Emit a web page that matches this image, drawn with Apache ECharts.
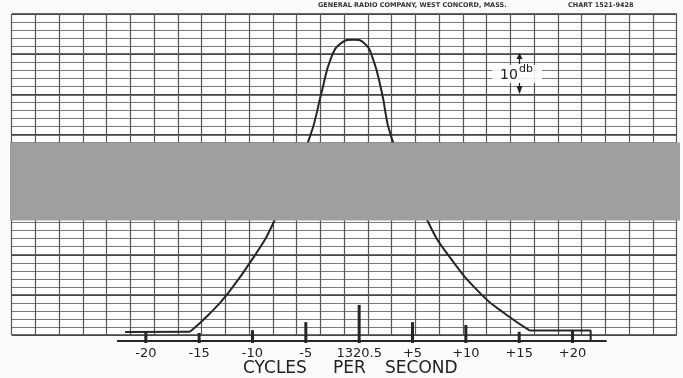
<!DOCTYPE html>
<html>
<head>
<meta charset="utf-8">
<script src="https://cdn.jsdelivr.net/npm/echarts@6/dist/echarts.min.js"></script>
<style>
html,body{margin:0;padding:0;background:#fbfbfb;}
#c{width:683px;height:378px;}
</style>
</head>
<body>
<div id="c"></div>
<script>
// Frequency tick marks (offset from 1320.5 c/s) and their labels
const freqTicks = [-20, -15, -10, -5, 0, 5, 10, 15, 20];
const freqLabels = ['-20', '-15', '-10', '-5', '1320.5', '+5', '+10', '+15', '+20'];
// Marker pips: heights in db above chart bottom
const pipTop = [0.8, 0.5, 1.2, 3.2, 7.5, 3.2, 2.5, 0.8, 1.2];
const pipBase = -2;
// Response curve (frequency offset, db above chart bottom)
const curveFreq = [-15.86, -14.14, -12.42, -9.76, -7.96, -4.67, -3.51, -2.64, -1.66, -0.55, 0.45, 1.27, 2.11, 3.05, 6.42, 8.35, 11.49, 13.83, 16.01];
const curveDb   = [0.8, 5.0, 10.0, 19.9, 28.4, 49.0, 60.6, 69.0, 72.8, 73.6, 72.8, 69.0, 60.6, 49.0, 28.4, 19.9, 10.0, 5.0, 1.1];
// Floor segments of the trace
const floorLeftFreq = [-21.95, -15.86];
const floorLeftDb = [0.75, 0.8];
const floorRightFreq = [16.01, 21.7, 21.7];
const floorRightDb = [1.1, 1.1, -1.4];
const baseFreq = [-22.7, 23.2];
const baseDb = [-1.5, -1.5];

const zip = (a, b) => a.map((v, i) => [v, b[i]]);
const ink = '#262626';

const series = [
  {type: 'line', xAxisIndex: 0, yAxisIndex: 0, data: [], silent: true},
  {type: 'line', xAxisIndex: 1, yAxisIndex: 2, data: zip(curveFreq, curveDb), smooth: 0.5,
   showSymbol: false, clip: false, lineStyle: {color: ink, width: 2}},
  {type: 'line', xAxisIndex: 1, yAxisIndex: 2, data: zip(floorLeftFreq, floorLeftDb),
   showSymbol: false, clip: false, lineStyle: {color: ink, width: 2}},
  {type: 'line', xAxisIndex: 1, yAxisIndex: 2, data: zip(floorRightFreq, floorRightDb),
   showSymbol: false, clip: false, lineStyle: {color: ink, width: 2}},
  {type: 'line', xAxisIndex: 1, yAxisIndex: 2, data: zip(baseFreq, baseDb),
   showSymbol: false, clip: false, lineStyle: {color: ink, width: 2}}
];
freqTicks.forEach((f, i) => {
  series.push({type: 'line', xAxisIndex: 1, yAxisIndex: 2,
    data: [[f, pipBase], [f, pipTop[i]]], showSymbol: false, clip: false,
    lineStyle: {color: ink, width: 3}});
});

const chart = echarts.init(document.getElementById('c'), null, {renderer: 'canvas'});
chart.setOption({
  animation: false,
  backgroundColor: '#fbfbfb',
  grid: [
    {left: 11.7, right: 6.3, top: 14, bottom: 43, backgroundColor: '#ffffff', show: true, borderWidth: 0},
    {left: 39.13, right: 3.79, top: 14, bottom: 43}
  ],
  xAxis: [
    {gridIndex: 0, type: 'value', min: 0, max: 28, interval: 1,
     axisLine: {show: false}, axisTick: {show: false}, axisLabel: {show: false},
     splitLine: {show: true, lineStyle: {color: '#555', width: 1.2}}},
    {gridIndex: 1, type: 'value', min: -30, max: 30, interval: 5,
     axisLine: {show: false}, axisTick: {show: false}, splitLine: {show: false},
     axisLabel: {show: true, margin: 12, fontSize: 13, color: '#222', fontFamily: 'DejaVu Sans',
       formatter: v => { const i = freqTicks.indexOf(Math.round(v)); return i >= 0 ? freqLabels[i] : ''; }}}
  ],
  yAxis: [
    {gridIndex: 0, type: 'value', min: 0, max: 40, interval: 1,
     axisLine: {show: false}, axisTick: {show: false}, axisLabel: {show: false},
     splitLine: {show: true, lineStyle: {color: '#7a7a7a', width: 1}}},
    {gridIndex: 0, type: 'value', min: 0, max: 40, interval: 5, position: 'left',
     axisLine: {show: false}, axisTick: {show: false}, axisLabel: {show: false},
     splitLine: {show: true, lineStyle: {color: '#3a3a3a', width: 1.5}}},
    {gridIndex: 1, type: 'value', min: 0, max: 80, interval: 10,
     axisLine: {show: false}, axisTick: {show: false}, axisLabel: {show: false}, splitLine: {show: false}}
  ],
  series: series,
  graphic: [
    {type: 'text', left: 318, top: 2, z: 50, style: {text: 'GENERAL RADIO COMPANY, WEST CONCORD, MASS.', font: 'bold 6.5px "DejaVu Sans"', fill: '#333'}},
    {type: 'text', left: 568, top: 2, z: 50, style: {text: 'CHART 1521-9428', font: 'bold 6.5px "DejaVu Sans"', fill: '#333'}},
    {type: 'rect', z: 40, shape: {x: 492, y: 65, width: 50, height: 18}, style: {fill: 'rgba(255,255,255,0.85)'}},
    {type: 'text', left: 500, top: 68, z: 50, style: {text: '10', font: '14px "DejaVu Sans"', fill: '#222'}},
    {type: 'text', left: 519, top: 64, z: 50, style: {text: 'db', font: '11px "DejaVu Sans"', fill: '#222'}},
    {type: 'line', z: 50, shape: {x1: 519.5, y1: 55, x2: 519.5, y2: 64}, style: {stroke: '#222', lineWidth: 1.3}},
    {type: 'polygon', z: 50, shape: {points: [[519.5, 53], [516.5, 59], [522.5, 59]]}, style: {fill: '#222'}},
    {type: 'line', z: 50, shape: {x1: 519.5, y1: 83, x2: 519.5, y2: 93}, style: {stroke: '#222', lineWidth: 1.3}},
    {type: 'polygon', z: 50, shape: {points: [[519.5, 94], [516.5, 86], [522.5, 86]]}, style: {fill: '#222'}},
    {type: 'text', left: 243, top: 360, z: 50, style: {text: 'CYCLES', font: '17px "DejaVu Sans"', fill: '#222'}},
    {type: 'text', left: 333, top: 360, z: 50, style: {text: 'PER', font: '17px "DejaVu Sans"', fill: '#222'}},
    {type: 'text', left: 385, top: 360, z: 50, style: {text: 'SECOND', font: '17px "DejaVu Sans"', fill: '#222'}},
    {type: 'rect', z: 100, shape: {x: 10, y: 142.5, width: 670, height: 78}, style: {fill: '#9f9f9f'}}
  ]
});
</script>
</body>
</html>
